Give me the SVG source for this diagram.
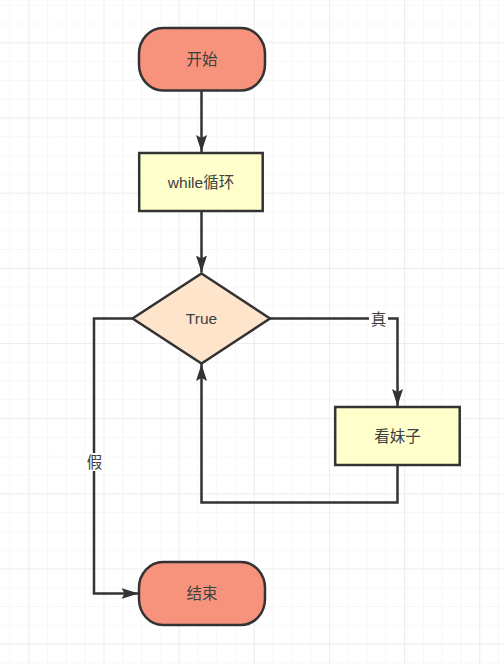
<svg xmlns="http://www.w3.org/2000/svg" width="504" height="665" viewBox="0 0 504 665">
<defs>
<pattern id="minor" patternUnits="userSpaceOnUse" x="9.5" y="4.7" width="18.79" height="18.79">
<path d="M 0 0 L 0 18.79 M 0 0 L 18.79 0" fill="none" stroke="#efefef" stroke-width="1"/>
</pattern>
<pattern id="major" patternUnits="userSpaceOnUse" x="28.3" y="42.3" width="75.17" height="75.17">
<path d="M 0 0 L 0 75.17 M 0 0 L 75.17 0" fill="none" stroke="#e3e3e3" stroke-width="1"/>
</pattern>
<marker id="arr" viewBox="0 0 17 11" refX="17" refY="5.5" markerWidth="17" markerHeight="11" markerUnits="userSpaceOnUse" orient="auto">
<path d="M 0 0 L 17 5.5 L 0 11 L 3 5.5 Z" fill="#333333"/>
</marker>
<style>
.edge{fill:none;stroke:#333333;stroke-width:2.5;}
.shape{stroke:#333333;stroke-width:2.5;}
.term{fill:#F7937C;}
.proc{fill:#FFFFCC;}
.dec{fill:#FFE4CC;}
.lbl{font-family:"Liberation Sans","Noto Sans CJK SC",sans-serif;font-size:15.5px;fill:#404040;text-anchor:middle;dominant-baseline:central;}
</style>
</defs>
<rect x="0" y="0" width="504" height="665" fill="#ffffff"/>
<rect x="0" y="0" width="504" height="665" fill="url(#minor)"/>
<rect x="0" y="0" width="504" height="665" fill="url(#major)"/>

<g id="connectors">
<path class="edge" d="M 201.5 90.5 L 201.5 152" marker-end="url(#arr)"/>
<path class="edge" d="M 201.5 211 L 201.5 272.5" marker-end="url(#arr)"/>
<path class="edge" d="M 270 318.5 L 397.5 318.5 L 397.5 406" marker-end="url(#arr)"/>
<path class="edge" d="M 397.5 465 L 397.5 502.5 L 201.5 502.5 L 201.5 364" marker-end="url(#arr)"/>
<path class="edge" d="M 132.5 318.5 L 94 318.5 L 94 593.5 L 138.5 593.5" marker-end="url(#arr)"/>
<rect x="369" y="310" width="19" height="18" fill="#ffffff"/>
<text class="lbl" x="378.5" y="319">真</text>
<rect x="85" y="453" width="19" height="18" fill="#ffffff"/>
<text class="lbl" x="94.5" y="462">假</text>
</g>

<g id="start">
<rect class="shape term" x="139" y="28" width="126" height="62.5" rx="24" ry="26"/>
<text class="lbl" x="202" y="59.5">开始</text>
</g>
<g id="while">
<rect class="shape proc" x="139.2" y="153" width="123.5" height="58"/>
<text class="lbl" x="201" y="182.5">while循环</text>
</g>
<g id="cond">
<polygon class="shape dec" points="201.5,273.5 270,318.5 201.5,363.5 132.5,318.5"/>
<text class="lbl" x="201.5" y="318.5">True</text>
</g>
<g id="look">
<rect class="shape proc" x="335.2" y="407" width="124.5" height="58"/>
<text class="lbl" x="397.5" y="436.5">看妹子</text>
</g>
<g id="end">
<rect class="shape term" x="139" y="562" width="126" height="63" rx="24" ry="26"/>
<text class="lbl" x="202" y="593.5">结束</text>
</g>
</svg>
